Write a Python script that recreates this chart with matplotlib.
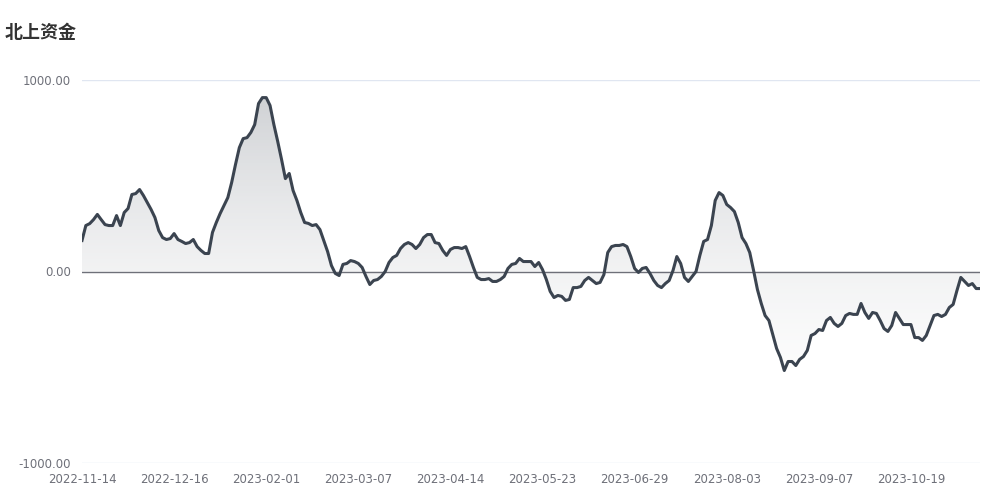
import matplotlib
matplotlib.use("Agg")
import matplotlib.pyplot as plt
import numpy as np
from matplotlib.patches import PathPatch
from matplotlib.path import Path

plt.rcParams['font.family'] = ['Noto Sans CJK SC', 'DejaVu Sans']

# 北上资金 (daily, category axis)
values = [
    162, 240, 250, 271, 298, 271, 245, 240, 240, 292,
    240, 308, 329, 402, 407, 428, 397, 360, 324, 282,
    214, 177, 167, 172, 198, 167, 157, 146, 151, 167,
    130, 110, 94, 94, 204, 256, 303, 345, 386, 465,
    559, 647, 694, 699, 726, 767, 877, 908, 908, 867,
    767, 679, 585, 485, 512, 423, 371, 308, 256, 251,
    240, 245, 219, 162, 104, 31, -10, -21, 37, 42,
    57, 52, 42, 21, -26, -68, -47, -42, -26, 0,
    47, 73, 84, 120, 141, 151, 141, 120, 141, 177,
    193, 193, 151, 146, 110, 84, 115, 125, 125, 120,
    130, 78, 21, -31, -42, -42, -37, -52, -52, -42,
    -26, 16, 37, 42, 68, 52, 52, 52, 26, 47,
    10, -42, -104, -136, -125, -130, -151, -146, -84, -84,
    -78, -47, -31, -47, -63, -57, -16, 99, 130, 136,
    136, 141, 130, 78, 16, -5, 16, 21, -10, -47,
    -73, -84, -63, -47, 5, 78, 42, -31, -52, -26,
    0, 84, 157, 167, 240, 371, 412, 397, 350, 334,
    313, 256, 177, 146, 99, 5, -94, -167, -230, -256,
    -329, -402, -449, -517, -470, -470, -491, -459, -444, -412,
    -334, -324, -303, -308, -256, -240, -271, -287, -271, -230,
    -219, -224, -224, -167, -214, -245, -214, -219, -256, -298,
    -313, -282, -214, -245, -277, -277, -277, -345, -345, -360,
    -334, -282, -230, -224, -235, -224, -188, -172, -99, -31,
    -52, -73, -63, -89, -89,
]
tick_labels = ['2022-11-14', '2022-12-16', '2023-02-01', '2023-03-07', '2023-04-14',
               '2023-05-23', '2023-06-29', '2023-08-03', '2023-09-07', '2023-10-19']
tick_step = 24

y = np.array(values, dtype=float)
x = np.arange(len(y))

fig = plt.figure(figsize=(10, 5), dpi=100)
ax = fig.add_axes([0.082, 0.074, 0.898, 0.766])
ax.set_xlim(0, len(y) - 1)
ax.set_ylim(-1000, 1000)

# gradient area between line and zero
grad = np.linspace(0, 1, 256).reshape(-1, 1)
cmap = matplotlib.colors.LinearSegmentedColormap.from_list(
    'g', [(1, 1, 1, 0), (0.55, 0.57, 0.60, 0.45)])
im = ax.imshow(grad, extent=[0, len(y) - 1, -1000, 1000], origin='lower',
               aspect='auto', cmap=cmap, zorder=1)
verts = [(x[0], 0)] + list(zip(x, y)) + [(x[-1], 0), (x[0], 0)]
codes = [Path.MOVETO] + [Path.LINETO] * (len(verts) - 2) + [Path.CLOSEPOLY]
clip = PathPatch(Path(verts, codes), transform=ax.transData, facecolor='none', edgecolor='none')
ax.add_patch(clip)
im.set_clip_path(clip)

ax.axhline(1000, color='#e0e6f1', lw=1, zorder=0)
ax.axhline(-1000, color='#e0e6f1', lw=1, zorder=0)
ax.axhline(0, color='#6e7079', lw=1, zorder=2)

ax.plot(x, y, color='#3b4450', lw=2.2, zorder=3, solid_joinstyle='round')

for s in ax.spines.values():
    s.set_visible(False)

ax.set_yticks([-1000, 0, 1000])
ax.set_yticklabels(['-1000.00', '0.00', '1000.00'])
ax.set_xticks(np.arange(0, len(y), tick_step))
ax.set_xticklabels(tick_labels)
ax.tick_params(axis='both', length=0, colors='#6e7079', labelsize=8.5)
ax.tick_params(axis='y', pad=8)
ax.tick_params(axis='x', pad=7)
for lab in ax.get_xticklabels() + ax.get_yticklabels():
    lab.set_family('DejaVu Sans')

fig.text(0.005, 0.936, '北上资金', fontsize=13, fontweight='bold', color='#333333',
         ha='left', va='center')

fig.savefig('out.png', dpi=100, facecolor='white')
